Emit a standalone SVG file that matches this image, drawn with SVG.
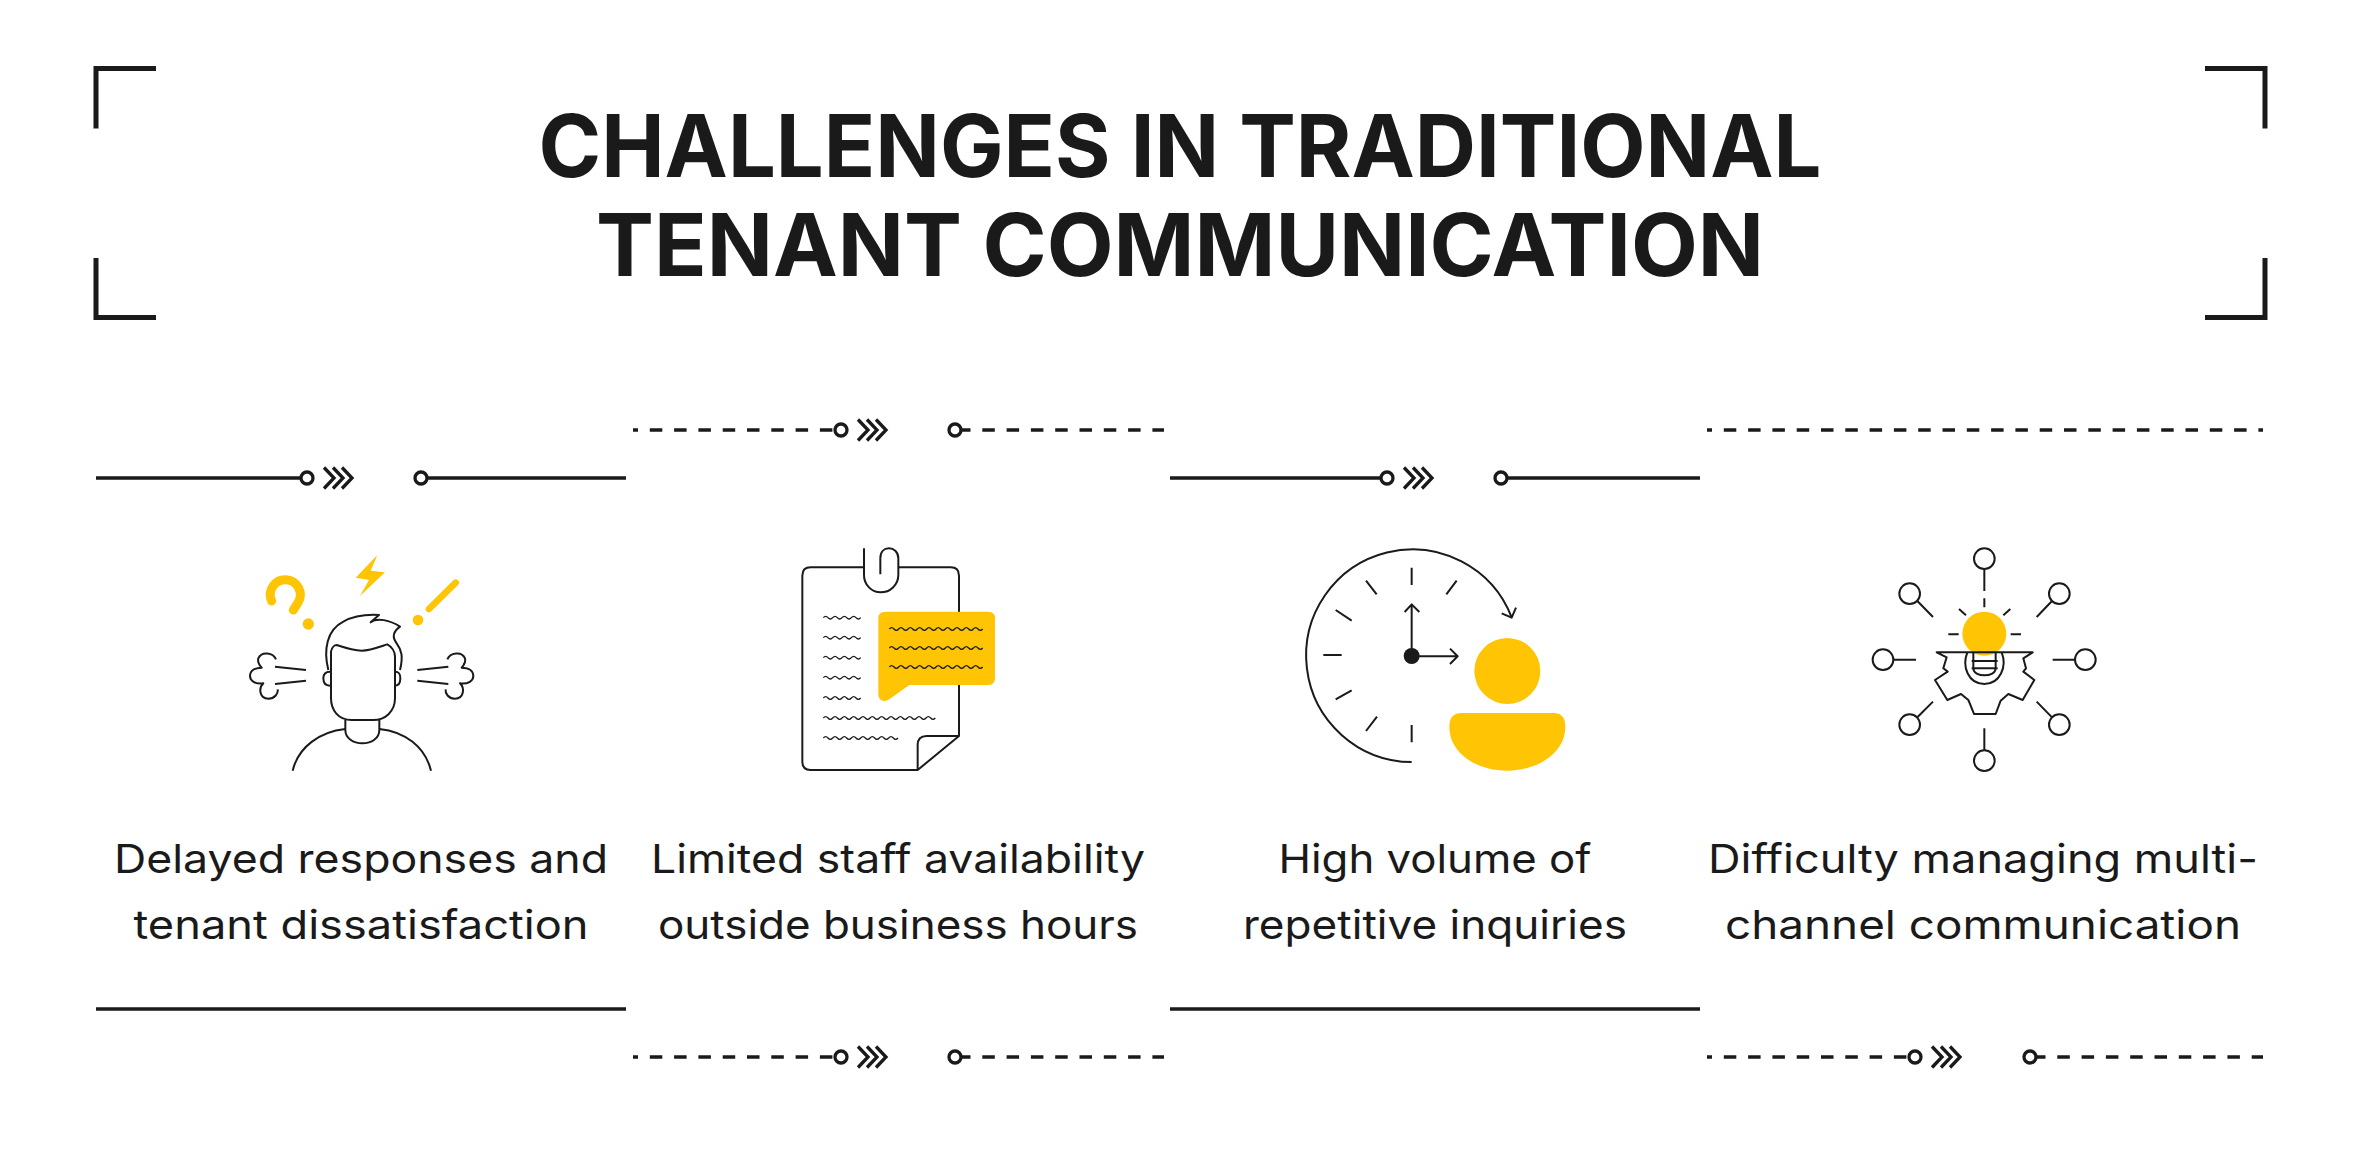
<svg xmlns="http://www.w3.org/2000/svg" xmlns:xlink="http://www.w3.org/1999/xlink" width="2361" height="1170" viewBox="0 0 2361 1170">
<style>
.title{font-family:"Inter","Liberation Sans",sans-serif;font-weight:700;font-size:87px;fill:#1a1a1a;text-anchor:middle}
.lab{font-family:"Inter","Liberation Sans",sans-serif;font-size:40px;fill:#1a1a1a;text-anchor:middle}
.br{fill:none;stroke:#1a1a1a;stroke-width:5}
.s{fill:none;stroke:#1a1a1a;stroke-width:3.3}
.d{fill:none;stroke:#1a1a1a;stroke-width:3.3;stroke-dasharray:12.5 11.8}
.ic{fill:none;stroke:#1a1a1a;stroke-width:6;stroke-linecap:butt;stroke-linejoin:round}
.w{fill:none;stroke:#1a1a1a;stroke-width:3.8}
.y{fill:#ffc505}
</style>
<defs>
<g id="mark" fill="none" stroke="#1a1a1a" stroke-width="3.300">
<circle cx="0" cy="0" r="6"/>
<path d="M17-10.500L27 0L17 10.500M26-10.500L36 0L26 10.500M35-10.500L45 0L35 10.500"/>
</g>
<path id="w4" d="M0 0q7-8 14 0t14 0t14 0t14 0t14 0t14 0t14 0t14 0"/>
<path id="w8" d="M0 0q7-8 14 0t14 0t14 0t14 0t14 0t14 0t14 0t14 0t14 0t14 0t14 0t14 0t14 0t14 0t14 0t14 0"/>
<path id="w10" d="M0 0q7-8 14 0t14 0t14 0t14 0t14 0t14 0t14 0t14 0t14 0t14 0t14 0t14 0t14 0t14 0t14 0t14 0t14 0t14 0t14 0t14 0"/>
<path id="w12" d="M0 0q7-8 14 0t14 0t14 0t14 0t14 0t14 0t14 0t14 0t14 0t14 0t14 0t14 0t14 0t14 0t14 0t14 0t14 0t14 0t14 0t14 0t14 0t14 0t14 0t14 0"/>
<g id="puff">
<path d="M168 388C160 368 125 362 115 385C112 395 118 405 125 413C100 413 90 425 90 438C90 452 105 463 130 460C115 475 118 505 145 506C165 506 175 490 173 478"/>
<path d="M165 410L258 420M165 462L258 452"/>
</g>
</defs>

<g id="title">
<path class="br" d="M96 128.500V68.500H156M96 258V317.500H156M2205 68.500H2265V128.500M2205 317.500H2265V258"/>
<text class="title" x="1180" y="177" textLength="1283" lengthAdjust="spacingAndGlyphs">CHALLENGES IN TRADITIONAL</text>
<text class="title" x="1180" y="276" textLength="1168" lengthAdjust="spacingAndGlyphs">TENANT COMMUNICATION</text>
</g>

<g id="connectors">
<path class="s" d="M96 478H301M427 478H626M1170 478H1381M1507 478H1700M96 1009H626M1170 1009H1700"/>
<path class="d" stroke-dashoffset="7.500" d="M633 430H835"/>
<path class="d" stroke-dashoffset="3" d="M961 430H1164"/>
<path class="d" stroke-dashoffset="7.500" d="M1707 430H2263"/>
<path class="d" stroke-dashoffset="7.500" d="M633 1057H835"/>
<path class="d" stroke-dashoffset="3" d="M961 1057H1164"/>
<path class="d" stroke-dashoffset="7.500" d="M1707 1057H1909"/>
<path class="d" stroke-dashoffset="3" d="M2036 1057H2263"/>
<use href="#mark" x="307" y="478"/><circle class="s" cx="421" cy="478" r="6"/>
<use href="#mark" x="841" y="430"/><circle class="s" cx="955" cy="430" r="6"/>
<use href="#mark" x="1387" y="478"/><circle class="s" cx="1501" cy="478" r="6"/>
<use href="#mark" x="841" y="1057"/><circle class="s" cx="955" cy="1057" r="6"/>
<use href="#mark" x="1915" y="1057"/><circle class="s" cx="2030" cy="1057" r="6"/>
</g>

<g id="node1">
<g transform="translate(220 530) scale(.33333)">
<path d="M155 213A45 45 0 1 1 234 218L220 240" fill="none" stroke="#ffc505" stroke-width="27" stroke-linecap="round" stroke-linejoin="round"/>
<circle class="y" cx="265" cy="282" r="17"/>
<polygon class="y" points="472,75 407,143 447,150 420,198 495,127 452,122"/>
<path d="M707 158L627 237" fill="none" stroke="#ffc505" stroke-width="20" stroke-linecap="round"/>
<circle class="y" cx="594" cy="270" r="16"/>
<g class="ic">
<path d="M325 420C310 360 320 300 370 275C400 258 440 253 477 255L452 277C470 262 510 270 540 290C520 305 515 320 530 340C545 360 550 380 540 420"/>
<path d="M333 365C336 350 345 345 350 345C380 355 410 362 425 362C450 362 480 350 502 343C515 350 525 365 525 380V505C525 545 495 570 460 570H395C355 570 333 540 333 505Z"/>
<path d="M330 425C315 425 310 432 310 445C310 462 318 467 330 467M525 425C538 425 541 432 541 445C541 460 536 467 525 467"/>
<path d="M376 570V600C376 625 400 640 427 640C455 640 478 625 478 600V570"/>
<path d="M218 722C235 650 300 605 376 597M478 597C555 605 615 650 633 722"/>
<use href="#puff"/>
<use href="#puff" transform="translate(850 0) scale(-1 1)"/>
</g>
</g>
<text class="lab" x="361" y="873" textLength="494" lengthAdjust="spacingAndGlyphs">Delayed responses and</text>
<text class="lab" x="361" y="939" textLength="455" lengthAdjust="spacingAndGlyphs">tenant dissatisfaction</text>
</g>

<g id="node2">
<g transform="translate(770 530) scale(.33333)">
<g class="ic">
<path d="M280 112H122Q97 112 97 137V695Q97 720 122 720H443L567 618V137Q567 112 542 112H385"/>
<path d="M443 720V645Q443 618 470 618H567"/>
<path d="M282 55V135C282 165 305 187 332 187C360 187 385 165 385 135V85C385 65 370 55 357 55C342 55 331 65 331 85V133"/>
</g>
<path class="y" d="M345 245H655Q675 245 675 265V445Q675 465 655 465H418L358 508Q345 517 333 510Q325 505 325 490V265Q325 245 345 245Z"/>
<g class="w">
<use href="#w4" x="160" y="263"/><use href="#w4" x="160" y="323"/><use href="#w4" x="160" y="383"/><use href="#w4" x="160" y="443"/><use href="#w4" x="160" y="504"/>
<use href="#w12" x="160" y="564"/><use href="#w8" x="160" y="624"/>
<use href="#w10" x="358" y="297"/><use href="#w10" x="358" y="354"/><use href="#w10" x="358" y="411"/>
</g>
</g>
<text class="lab" x="898" y="873" textLength="494" lengthAdjust="spacingAndGlyphs">Limited staff availability</text>
<text class="lab" x="898" y="939" textLength="480" lengthAdjust="spacingAndGlyphs">outside business hours</text>
</g>

<g id="node3">
<g transform="translate(1280 530) scale(.33333)">
<g class="ic">
<path d="M395 696A319 319 0 1 1 695 262M665 250L695 263L708 233"/>
<path d="M395 113V165M530 152L499 193M258 152L290 193M167 240L215 272M130 375H185M167 508L215 481M258 603L291 560M395 585V637"/>
<path d="M395 378V225M374 246L395 223L418 246M395 379H533M510 356L533 379L510 402"/>
</g>
<circle cx="395" cy="378" r="24" fill="#1a1a1a"/>
<circle class="y" cx="682" cy="423" r="99"/>
<path class="y" d="M545 549H820Q856 549 856 590C856 670 770 722 682 722C590 722 508 670 508 590Q508 549 545 549Z"/>
</g>
<text class="lab" x="1435" y="873" textLength="313" lengthAdjust="spacingAndGlyphs">High volume of</text>
<text class="lab" x="1435" y="939" textLength="384" lengthAdjust="spacingAndGlyphs">repetitive inquiries</text>
</g>

<g id="node4">
<g transform="translate(1860 530) scale(.33333)">
<g class="ic">
<circle cx="373" cy="86" r="31"/><circle cx="149" cy="191" r="31"/><circle cx="598" cy="191" r="31"/><circle cx="69" cy="389" r="31"/><circle cx="676" cy="389" r="31"/><circle cx="149" cy="584" r="31"/><circle cx="598" cy="584" r="31"/><circle cx="373" cy="692" r="31"/>
<path d="M373 117V183M373 205V232M172 213L219 261M576 213L530 261M100 389H168M645 389H578M172 562L219 515M576 562L530 515M373 661V595"/>
<path d="M297 237L318 256M451 237L430 256M265 313H296M452 313H483"/>
</g>
<circle class="y" cx="373" cy="311" r="66"/>
<g class="ic">
<path d="M230 367L260 382L250 415L263 425L225 450L262 510L303 492L325 510L342 552H407L422 512L445 492L488 510L523 450L490 425L498 415L490 385L518 367Z"/>
<path d="M322 367C305 410 325 462 373 462C420 462 442 410 425 367"/>
<path d="M340 367V415C340 443 407 443 407 415V367M335 393H413M335 415H413"/>
</g>
</g>
<text class="lab" x="1983" y="873" textLength="550" lengthAdjust="spacingAndGlyphs">Difficulty managing multi-</text>
<text class="lab" x="1983" y="939" textLength="516" lengthAdjust="spacingAndGlyphs">channel communication</text>
</g>
</svg>
